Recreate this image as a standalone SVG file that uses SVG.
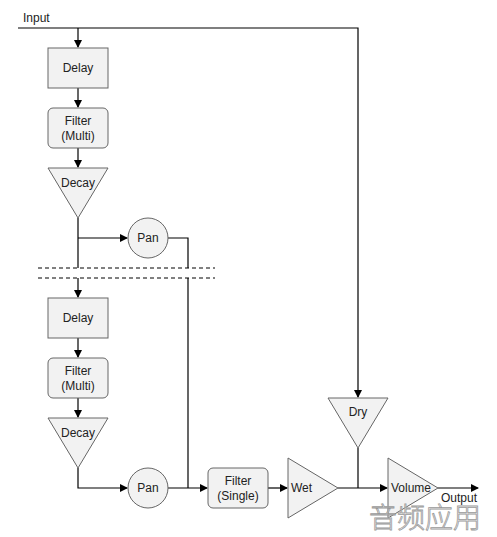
<svg xmlns="http://www.w3.org/2000/svg" width="497" height="537" viewBox="0 0 497 537">
<style>
.n{fill:#f2f2f2;stroke:#666;stroke-width:1}
.t{font-family:"Liberation Sans",Arial,sans-serif;font-size:12px;fill:#222}
.c{text-anchor:middle}
.l{fill:none;stroke:#000;stroke-width:1.2}
.d{fill:none;stroke:#000;stroke-width:1;stroke-dasharray:4,3}
</style>
<defs>
<marker id="a" markerWidth="8" markerHeight="8" refX="7" refY="4" orient="auto" markerUnits="userSpaceOnUse">
<path d="M0,0 L8,4 L0,8 Z" fill="#000"/>
</marker>
</defs>
<rect width="497" height="537" fill="#fff"/>
<g id="connectors">
<path class="l" d="M18,28 H358 V397" marker-end="url(#a)"/>
<path class="l" d="M78,28 V47" marker-end="url(#a)"/>
<path class="l" d="M78,88 V107" marker-end="url(#a)"/>
<path class="l" d="M78,148 V167" marker-end="url(#a)"/>
<path class="l" d="M78,218 V268"/>
<path class="l" d="M78,238 H127" marker-end="url(#a)"/>
<path class="l" d="M168,238 H188 V268"/>
<path class="l" d="M78,278 V297" marker-end="url(#a)"/>
<path class="l" d="M188,278 V488"/>
<path class="l" d="M78,338 V357" marker-end="url(#a)"/>
<path class="l" d="M78,398 V417" marker-end="url(#a)"/>
<path class="l" d="M78,468 V488 H127" marker-end="url(#a)"/>
<path class="l" d="M168,488 H207" marker-end="url(#a)"/>
<path class="l" d="M268,488 H287" marker-end="url(#a)"/>
<path class="l" d="M338,488 H387" marker-end="url(#a)"/>
<path class="l" d="M358,448 V488"/>
<path class="l" d="M438,488 H478" marker-end="url(#a)"/>
<path class="d" d="M38,268 H215 M38,278 H215"/>
</g>
<text class="t" x="23" y="22">Input</text>
<g id="delay1"><rect class="n" x="48" y="48" width="60" height="40"/><text class="t c" x="78" y="72">Delay</text></g>
<g id="filter1"><rect class="n" x="48" y="108" width="60" height="40" rx="5"/><text class="t c" x="78" y="125">Filter</text><text class="t c" x="78" y="140">(Multi)</text></g>
<g id="decay1"><path class="n" d="M48,168 H108 L78,218 Z"/><text class="t c" x="78" y="187">Decay</text></g>
<g id="pan1"><circle class="n" cx="148" cy="238" r="20"/><text class="t c" x="148" y="242">Pan</text></g>
<g id="delay2"><rect class="n" x="48" y="298" width="60" height="40"/><text class="t c" x="78" y="322">Delay</text></g>
<g id="filter2"><rect class="n" x="48" y="358" width="60" height="40" rx="5"/><text class="t c" x="78" y="375">Filter</text><text class="t c" x="78" y="390">(Multi)</text></g>
<g id="decay2"><path class="n" d="M48,418 H108 L78,468 Z"/><text class="t c" x="78" y="437">Decay</text></g>
<g id="pan2"><circle class="n" cx="148" cy="488" r="20"/><text class="t c" x="148" y="492">Pan</text></g>
<g id="filter3"><rect class="n" x="208" y="468" width="60" height="40" rx="5"/><text class="t c" x="238" y="485">Filter</text><text class="t c" x="238" y="500">(Single)</text></g>
<g id="wet"><path class="n" d="M288,458 L338,488 L288,518 Z"/><text class="t" x="291" y="492">Wet</text></g>
<g id="dry"><path class="n" d="M328,398 H388 L358,448 Z"/><text class="t c" x="358" y="416">Dry</text></g>
<g id="volume"><path class="n" d="M388,458 L438,488 L388,518 Z"/><text class="t" x="391" y="492">Volume</text></g>
<text class="t" x="441" y="502">Output</text>
<text x="369" y="528" font-family="'Noto Sans CJK SC',sans-serif" font-size="28" font-weight="300" fill="#fff" stroke="#999" stroke-width="0.8" fill-opacity="0.6">音频应用</text>
</svg>
